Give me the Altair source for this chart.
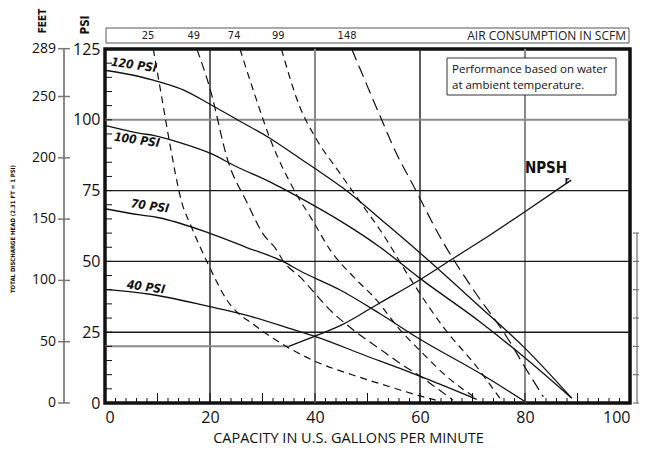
import altair as alt
import pandas as pd

W, H = 525, 354

# ---------------- data ----------------
# Pump head curves at inlet air pressure (GPM, PSI)
p120_gpm = [0, 6.7, 9.2, 15, 20, 25.7, 31.4, 37.1, 40, 45.4, 53.7, 60, 71.4, 79.7, 88.9]
p120_psi = [117.5, 115.2, 114, 110.5, 105.5, 99.5, 93.5, 86.4, 82.8, 75.8, 63, 53, 34, 19.9, 1.7]
p100_gpm = [0, 6.7, 9.2, 15, 20, 25, 31.4, 34, 37.1, 40, 44.8, 52.4, 60, 71.4, 79.7, 88.9]
p100_psi = [98, 95.2, 94.5, 91.5, 88.2, 83.5, 78.1, 75.6, 72.5, 69.5, 64.3, 55, 44, 28.7, 16.4, 1.7]
p70_gpm = [0, 6.7, 10, 20, 27, 34, 37.1, 44.8, 52.4, 60, 71.4, 80]
p70_psi = [68.6, 66.4, 65.5, 59.9, 54.9, 49.9, 46.7, 39.9, 31.5, 22.5, 10.5, 0.5]
p40_gpm = [0, 8.6, 20, 26.3, 37.1, 39.7, 49.8, 56.2, 62, 70.8]
p40_psi = [40.1, 38.4, 34, 31.3, 25.2, 23.7, 16.6, 12.2, 8, 1.3]

# Air consumption curves (SCFM)
a25_gpm = [9.2, 10.8, 12.4, 14.6, 16.5, 19.4, 23.2, 28.9, 34.6, 40.3, 47.2, 52.4, 56.2, 60.0, 63.0]
a25_psi = [125, 108, 91, 71, 62, 50, 36.4, 26.9, 19.9, 14.5, 9.9, 6.8, 4.6, 2.5, 1.0]
a49_gpm = [17.5, 20.0, 23.5, 27.0, 30.0, 32.7, 34.0, 37.1, 43.5, 47.3, 52.4, 56.2, 60.0, 63.0, 66.3]
a49_psi = [125, 111, 85, 71, 60, 54, 50, 44.6, 31.7, 25.8, 19.0, 14.0, 9.5, 5.5, 1.0]
a74_gpm = [25.7, 28.5, 31.4, 36.2, 39.7, 42.9, 47.3, 51.7, 56.2, 60, 65, 70.8]
a74_psi = [125, 109, 93.5, 74.6, 64, 54, 44.6, 36.4, 25.8, 18.5, 9.5, 1.5]
a99_gpm = [33.6, 37.1, 40, 44.8, 48.6, 52.4, 58.7, 64.4, 70.8, 75.2]
a99_psi = [125, 104.6, 94, 81, 71, 61.1, 42.3, 26.9, 12.8, 1.7]
a148_gpm = [47, 52.7, 55.2, 59, 63.8, 70.2, 76.5, 80.3, 83.5]
a148_psi = [125, 100, 89.3, 75.8, 58.7, 39.9, 23.4, 11.7, 2.2]

# NPSHr curve
npsh_flat_gpm = [0, 35]
npsh_flat_psi = [20, 20]
npsh_gpm = [35, 40, 45, 52.4, 60, 66.3, 71.4, 79.7, 88.8]
npsh_psi = [20, 23.6, 27.5, 35.4, 43.5, 51, 57, 67.2, 78.7]

# scales / labels
x_labels = [0, 20, 40, 60, 80, 100]
psi_labels = [0, 25, 50, 75, 100, 125]
feet_labels = [0, 50, 100, 150, 200, 250, 289]
grid_x_dark = [20, 60]
grid_x_gray = [40, 80]
grid_y_dark = [25, 50, 75]
grid_y_gray = [100]
scfm_names = ["25", "49", "74", "99", "148"]
scfm_label_gpm = [8.2, 16.9, 24.6, 33.0, 46.1]
right_scale_psi = [0, 10, 20, 30, 40, 50, 60]

# ---------------- frames ----------------
def frame(gx, gy, name):
    return pd.DataFrame({"gpm": gx, "psi": gy, "curve": name})

pump = pd.concat([frame(p120_gpm, p120_psi, "120"), frame(p100_gpm, p100_psi, "100"),
                  frame(p70_gpm, p70_psi, "70"), frame(p40_gpm, p40_psi, "40")])
air = pd.concat([frame(a25_gpm, a25_psi, "25"), frame(a49_gpm, a49_psi, "49"),
                 frame(a74_gpm, a74_psi, "74"), frame(a99_gpm, a99_psi, "99"),
                 frame(a148_gpm, a148_psi, "148")])
npsh_flat = frame(npsh_flat_gpm, npsh_flat_psi, "flat")
npsh = frame(npsh_gpm, npsh_psi, "npsh")
feet = pd.DataFrame({"feet": feet_labels})
feet["psi"] = feet["feet"] / 2.31
feet["label"] = feet["feet"].astype(str)
minor_psi = pd.DataFrame({"psi": list(range(5, 125, 5))})
minor_gpm = pd.DataFrame({"gpm": [g for g in range(2, 100, 2) if g % 10 != 0]})
major_gpm = pd.DataFrame({"gpm": [g for g in range(10, 100, 10)]})
scfm_df = pd.DataFrame({"gpm": scfm_label_gpm, "label": scfm_names})
right_df = pd.DataFrame({"psi": right_scale_psi})
one = pd.DataFrame({"a": [0]})

xs = alt.Scale(domain=[0, 100], nice=False, zero=True)
ys = alt.Scale(domain=[0, 125], nice=False, zero=True)
FONT = "Open Sans"
NARROW = "'Liberation Sans Narrow', 'DejaVu Sans Condensed', 'Roboto Condensed', 'Liberation Sans', sans-serif"

x_axis = alt.Axis(values=x_labels, labelFontSize=16, labelFont=FONT,
                  labelColor="#111", domain=False, ticks=False, grid=False, labelPadding=6,
                  title="CAPACITY IN U.S. GALLONS PER MINUTE", titleFont=FONT, titleFontSize=14.5,
                  titleFontWeight="normal", titleColor="#111", titlePadding=6, titleX=243)
y_axis = alt.Axis(values=psi_labels, labelFontSize=16, labelFont=FONT,
                  labelColor="#111", domain=False, ticks=False, grid=False, labelPadding=5, title=None)

X = alt.X("gpm:Q", scale=xs, axis=x_axis, title="CAPACITY IN U.S. GALLONS PER MINUTE")
Y = alt.Y("psi:Q", scale=ys, axis=y_axis, title=None)

base_axes = alt.Chart(pd.DataFrame({"gpm": [0, 100], "psi": [0, 125]})).mark_point(opacity=0).encode(
    x=X, y=Y)

def vrules(vals, color, width):
    return alt.Chart(pd.DataFrame({"gpm": vals})).mark_rule(color=color, strokeWidth=width).encode(x=X)

def hrules(vals, color, width):
    return alt.Chart(pd.DataFrame({"psi": vals})).mark_rule(color=color, strokeWidth=width).encode(y=Y)

grid = [vrules(grid_x_gray, "#8a8a8a", 2), vrules(grid_x_dark, "#1a1a1a", 1.4),
        hrules(grid_y_gray, "#8a8a8a", 2), hrules(grid_y_dark, "#1a1a1a", 1.4)]

flat = alt.Chart(npsh_flat).mark_line(color="#8a8a8a", strokeWidth=2).encode(x=X, y=Y)

pump_lines = alt.Chart(pump).mark_line(color="#111", strokeWidth=1.3, interpolate="monotone").encode(
    x=X, y=Y, detail="curve:N")

air_lines = alt.Chart(air).mark_line(color="#111", strokeWidth=1.2, interpolate="monotone").encode(
    x=X, y=Y, detail="curve:N",
    strokeDash=alt.StrokeDash("curve:N", legend=None,
        scale=alt.Scale(domain=scfm_names, range=[[7, 5], [9, 5], [7, 5], [7, 5], [12, 6]])))

npsh_line = alt.Chart(npsh).mark_line(color="#111", strokeWidth=1.3, interpolate="monotone").encode(x=X, y=Y)

tick_left = alt.Chart(minor_psi).mark_rule(color="#111", strokeWidth=1).encode(
    x=alt.value(0), x2=alt.value(7), y=Y)
tick_bot = alt.Chart(minor_gpm).mark_rule(color="#111", strokeWidth=1).encode(
    x=X, y=alt.value(H), y2=alt.value(H - 5))
tick_bot2 = alt.Chart(major_gpm).mark_rule(color="#111", strokeWidth=1).encode(
    x=X, y=alt.value(H), y2=alt.value(H - 10))

# feet axis
feet_line = alt.Chart(one).mark_rule(color="#8a8a8a", strokeWidth=2).encode(
    x=alt.value(-41), y=alt.value(0), y2=alt.value(H))
feet_ticks = alt.Chart(feet).mark_rule(color="#777", strokeWidth=1.5).encode(
    x=alt.value(-47), x2=alt.value(-35), y=Y)
feet_text = alt.Chart(feet).mark_text(align="right", baseline="middle", font=FONT, fontSize=14,
                                       color="#111").encode(x=alt.value(-49), y=Y, text="label:N")

# right small scale
right_line = alt.Chart(one).mark_rule(color="#8a8a8a", strokeWidth=1.5).encode(
    x=alt.value(532), y=alt.value(H - 60 * H / 125), y2=alt.value(H))
right_ticks = alt.Chart(right_df).mark_rule(color="#777", strokeWidth=1.2).encode(
    x=alt.value(528), x2=alt.value(536), y=Y)

# top air consumption strip
top_box = alt.Chart(one).mark_rect(fill="white", stroke="#555", strokeWidth=1).encode(
    x=alt.value(1), x2=alt.value(W - 1), y=alt.value(-21), y2=alt.value(-6))
top_labels = alt.Chart(scfm_df).mark_text(font=NARROW, fontSize=11, color="#222").encode(
    x=X, y=alt.value(-13), text="label:N")
top_title = alt.Chart(one).mark_text(font=FONT, fontSize=12, color="#222", align="right").encode(
    x=alt.value(W - 4), y=alt.value(-13), text=alt.value("AIR CONSUMPTION IN SCFM"))

# note box
note_box = alt.Chart(one).mark_rect(fill="white", stroke="#333", strokeWidth=1).encode(
    x=alt.value(342), x2=alt.value(511), y=alt.value(9), y2=alt.value(46))
note1 = alt.Chart(one).mark_text(font=FONT, fontSize=11.5, color="#111", align="left").encode(
    x=alt.value(347), y=alt.value(21), text=alt.value("Performance based on water"))
note2 = alt.Chart(one).mark_text(font=FONT, fontSize=11.5, color="#111", align="left").encode(
    x=alt.value(347), y=alt.value(37), text=alt.value("at ambient temperature."))

def curve_label(txt, x, y):
    return alt.Chart(one).mark_text(font=NARROW, fontSize=12, fontWeight="bold", fontStyle="italic",
                                    color="#111", angle=8).encode(
        x=alt.value(x), y=alt.value(y), text=alt.value(txt))

labels = [curve_label("120 PSI", 29, 16), curve_label("100 PSI", 32, 91),
          curve_label("70 PSI", 45, 157), curve_label("40 PSI", 41, 238)]

npsh_t = alt.Chart(one).mark_text(font=NARROW, fontSize=15, fontWeight="bold", color="#111").encode(
    x=alt.value(441), y=alt.value(119), text=alt.value("NPSH"))
npsh_r = alt.Chart(one).mark_text(font=NARROW, fontSize=10, fontWeight="bold", color="#111").encode(
    x=alt.value(462), y=alt.value(132), text=alt.value("r"))

feet_title = alt.Chart(one).mark_text(font=NARROW, fontSize=10, fontWeight="bold", color="#111",
                                      angle=270).encode(x=alt.value(-62), y=alt.value(-28),
                                                        text=alt.value("FEET"))
psi_title = alt.Chart(one).mark_text(font=NARROW, fontSize=11.5, fontWeight="bold", color="#111",
                                     angle=270).encode(x=alt.value(-19), y=alt.value(-24),
                                                       text=alt.value("PSI"))
y_title = alt.Chart(one).mark_text(font=NARROW, fontSize=6, fontWeight="bold", color="#111",
                                   angle=270).encode(x=alt.value(-92), y=alt.value(180),
                                                     text=alt.value("TOTAL DISCHARGE HEAD (2.31 FT = 1 PSI)"))

chart = alt.layer(
    base_axes, *grid, flat, pump_lines, air_lines, npsh_line, tick_left, tick_bot, tick_bot2,
    feet_line, feet_ticks, feet_text, right_line, right_ticks, top_box, top_labels, top_title,
    note_box, note1, note2, *labels, npsh_t, npsh_r, feet_title, psi_title, y_title,
).properties(
    width=W, height=H,
    autosize=alt.AutoSizeParams(type="none"),
    padding={"left": 97, "top": 41, "right": 9, "bottom": 46},
).configure_view(stroke="#111", strokeWidth=3.5)

chart.save("out.html", embed_options={"renderer": "svg", "actions": False})
